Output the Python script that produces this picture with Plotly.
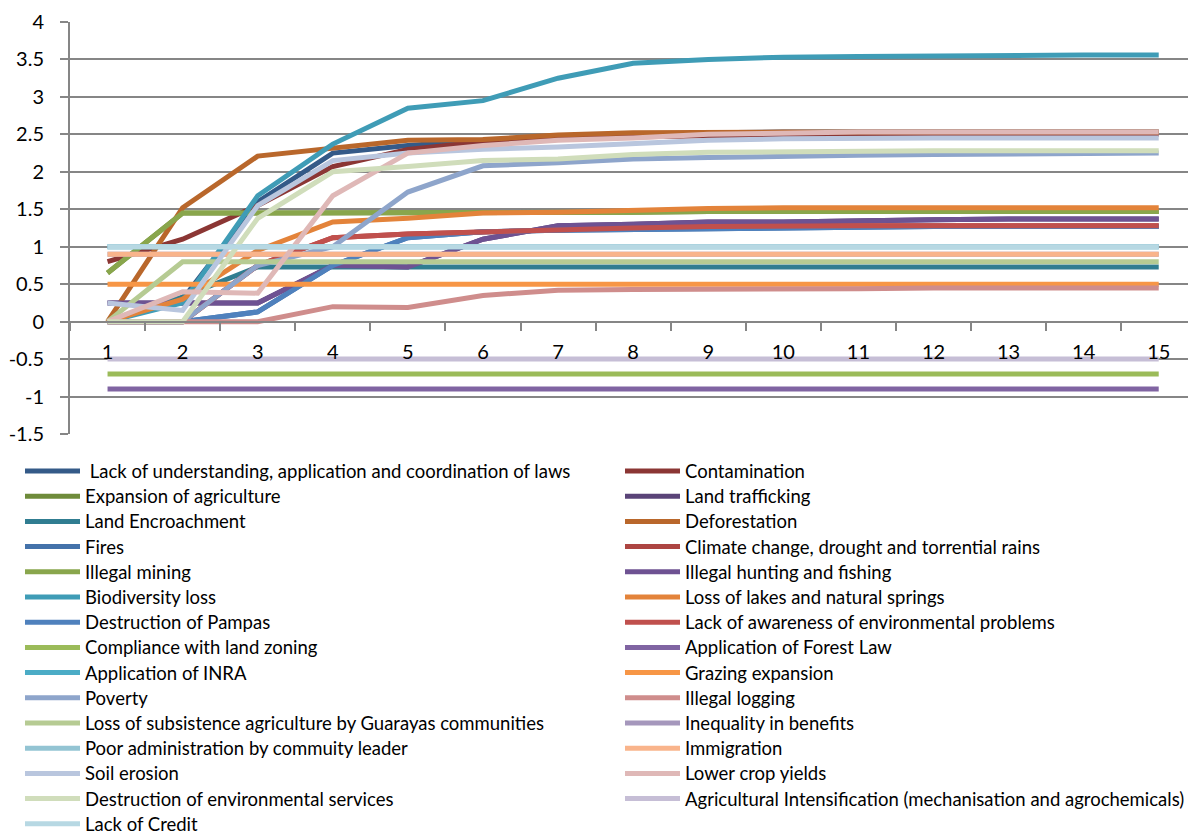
import plotly.graph_objects as go

steps = [str(i) for i in range(1, 16)]

names = [
    " Lack of understanding, application and coordination of laws",
    "Contamination",
    "Expansion of agriculture",
    "Land trafficking",
    "Land Encroachment",
    "Deforestation",
    "Fires",
    "Climate change, drought and torrential rains",
    "Illegal mining",
    "Illegal hunting and fishing",
    "Biodiversity loss",
    "Loss of lakes and natural springs",
    "Destruction of Pampas",
    "Lack of awareness of environmental problems",
    "Compliance with land zoning",
    "Application of Forest Law",
    "Application of INRA",
    "Grazing expansion",
    "Poverty",
    "Illegal logging",
    "Loss of subsistence agriculture by Guarayas communities",
    "Inequality in benefits",
    "Poor administration by commuity leader",
    "Immigration",
    "Soil erosion",
    "Lower crop yields",
    "Destruction of environmental services",
    "Agricultural Intensification (mechanisation and agrochemicals)",
    "Lack of Credit",
]

lack_of_understanding = [0, 0.3, 1.6, 2.25, 2.35, 2.42, 2.47, 2.5, 2.52, 2.53, 2.53, 2.53, 2.53, 2.53, 2.53]
contamination = [0.8, 1.1, 1.55, 2.07, 2.3, 2.4, 2.45, 2.47, 2.48, 2.49, 2.5, 2.5, 2.5, 2.5, 2.5]
expansion_agriculture = [0.65, 1.45, 1.45, 1.45, 1.45, 1.46, 1.46, 1.46, 1.47, 1.47, 1.47, 1.47, 1.47, 1.47, 1.47]
land_trafficking = [0.25, 0.25, 0.25, 0.75, 0.73, 1.1, 1.28, 1.3, 1.33, 1.33, 1.35, 1.36, 1.37, 1.37, 1.37]
land_encroachment = [0, 0.33, 0.73, 0.73, 0.73, 0.73, 0.73, 0.73, 0.73, 0.73, 0.73, 0.73, 0.73, 0.73, 0.73]
deforestation = [0, 1.52, 2.21, 2.32, 2.42, 2.43, 2.49, 2.52, 2.53, 2.53, 2.53, 2.53, 2.53, 2.53, 2.53]
fires = [0, 0, 0.13, 0.75, 1.12, 1.2, 1.22, 1.23, 1.25, 1.26, 1.27, 1.27, 1.27, 1.27, 1.27]
climate_change = [0, 0, 0.75, 1.12, 1.17, 1.2, 1.22, 1.25, 1.27, 1.28, 1.28, 1.28, 1.28, 1.28, 1.28]
illegal_mining = [0.65, 1.45, 1.45, 1.45, 1.45, 1.46, 1.46, 1.46, 1.47, 1.47, 1.47, 1.47, 1.47, 1.47, 1.47]
illegal_hunting = [0.25, 0.25, 0.25, 0.75, 0.73, 1.1, 1.28, 1.3, 1.33, 1.33, 1.35, 1.36, 1.37, 1.37, 1.37]
biodiversity_loss = [0, 0.25, 1.68, 2.37, 2.85, 2.95, 3.25, 3.45, 3.5, 3.53, 3.54, 3.55, 3.56, 3.56, 3.56]
loss_of_lakes = [0, 0.3, 0.95, 1.33, 1.38, 1.45, 1.46, 1.49, 1.51, 1.52, 1.52, 1.52, 1.52, 1.52, 1.52]
destruction_pampas = [0, 0, 0.13, 0.75, 1.12, 1.2, 1.22, 1.23, 1.25, 1.26, 1.27, 1.27, 1.27, 1.27, 1.27]
lack_of_awareness = [0, 0, 0.75, 1.12, 1.17, 1.2, 1.22, 1.25, 1.27, 1.28, 1.28, 1.28, 1.28, 1.28, 1.28]
compliance_zoning = [-0.7] * 15
forest_law = [-0.9] * 15
application_inra = [1.0] * 15
grazing_expansion = [0.5] * 15
poverty = [0, 0, 0.75, 1.0, 1.73, 2.08, 2.12, 2.17, 2.19, 2.21, 2.22, 2.23, 2.24, 2.24, 2.25]
illegal_logging = [0, 0, 0, 0.2, 0.19, 0.35, 0.42, 0.43, 0.43, 0.44, 0.44, 0.45, 0.45, 0.45, 0.45]
loss_subsistence = [0, 0.8, 0.8, 0.8, 0.8, 0.8, 0.8, 0.8, 0.8, 0.8, 0.8, 0.8, 0.8, 0.8, 0.8]
inequality_benefits = [0.9] * 15
poor_administration = [1.0] * 15
immigration = [0.9] * 15
soil_erosion = [0.25, 0.15, 1.55, 2.15, 2.25, 2.3, 2.33, 2.38, 2.42, 2.44, 2.45, 2.45, 2.45, 2.45, 2.45]
lower_crop_yields = [0, 0.4, 0.38, 1.68, 2.25, 2.35, 2.42, 2.45, 2.5, 2.52, 2.53, 2.53, 2.53, 2.53, 2.53]
destruction_services = [0, 0, 1.38, 2.0, 2.07, 2.15, 2.17, 2.23, 2.26, 2.27, 2.28, 2.28, 2.28, 2.28, 2.28]
agri_intensification = [-0.5] * 15
lack_of_credit = [1.0] * 15

series = [
    lack_of_understanding, contamination, expansion_agriculture, land_trafficking,
    land_encroachment, deforestation, fires, climate_change, illegal_mining,
    illegal_hunting, biodiversity_loss, loss_of_lakes, destruction_pampas,
    lack_of_awareness, compliance_zoning, forest_law, application_inra,
    grazing_expansion, poverty, illegal_logging, loss_subsistence,
    inequality_benefits, poor_administration, immigration, soil_erosion,
    lower_crop_yields, destruction_services, agri_intensification, lack_of_credit,
]

colors = [
    "#345A88", "#8B3634", "#6E8B3A", "#5A4478", "#307D91", "#B9672B",
    "#4472AA", "#AD4542", "#89A64C", "#6E5292", "#3F9CB6", "#E3833A",
    "#4F81BD", "#C0504D", "#9BBB59", "#8064A2", "#4BACC6", "#F79646",
    "#8EA5CB", "#CF8D8C", "#B6CB93", "#A597BC", "#93C4D3", "#F9B48B",
    "#B9C6DE", "#DFB8B7", "#D0DDBB", "#C6BED6", "#B7D8E3",
]

y_ticks = [-1.5, -1, -0.5, 0, 0.5, 1, 1.5, 2, 2.5, 3, 3.5, 4]
y_tick_text = ["-1.5", "-1", "-0.5", "0", "0.5", "1", "1.5", "2", "2.5", "3", "3.5", "4"]

W, H = 1188, 835
L, R, T, B = 70, 0, 22, 401
plot_w = W - L - R
plot_h = H - T - B


def px_x(px):
    return (px - L) / plot_w


def px_y(py):
    return (H - B - py) / plot_h


fig = go.Figure()
for name, vals, col in zip(names, series, colors):
    fig.add_trace(go.Scatter(
        x=steps, y=vals, name=name, mode="lines",
        line=dict(color=col, width=5), showlegend=False,
    ))

grid = "#868686"
font = "Lato, 'Open Sans', sans-serif"

# Two-column key below the plot: left column takes odd entries, right even.
shapes = []
annotations = []
for i, (name, col) in enumerate(zip(names, colors)):
    row, col_idx = divmod(i, 2)
    y_px = 471 + 25.2 * row
    x0 = 25 + 600 * col_idx
    shapes.append(dict(
        type="line", xref="paper", yref="paper",
        x0=px_x(x0), x1=px_x(x0 + 55), y0=px_y(y_px), y1=px_y(y_px),
        line=dict(color=col, width=5),
    ))
    annotations.append(dict(
        text=name, xref="paper", yref="paper",
        x=px_x(x0 + 58), y=px_y(y_px), xanchor="left", yanchor="middle",
        showarrow=False, font=dict(size=18.5, family=font, color="black"),
    ))

fig.update_layout(
    width=W, height=H,
    margin=dict(l=L, r=R, t=T, b=B, autoexpand=False),
    plot_bgcolor="white", paper_bgcolor="white",
    font=dict(family=font, color="black"),
    showlegend=False,
    shapes=shapes,
    annotations=annotations,
    xaxis=dict(
        type="category", range=[-0.5, 14.39],
        anchor="free", position=1.5 / 5.5,
        showgrid=False, showline=True, linecolor=grid, linewidth=2,
        ticks="outside", ticklen=8, tickcolor=grid, tickwidth=2,
        tickson="boundaries", ticklabelstandoff=12,
        tickfont=dict(size=20, family=font, color="black"),
        zeroline=False,
    ),
    yaxis=dict(
        range=[-1.5, 4], tickvals=y_ticks, ticktext=y_tick_text,
        showgrid=True, gridcolor=grid, gridwidth=2,
        showline=True, linecolor=grid, linewidth=2,
        ticks="outside", ticklen=8, tickcolor=grid, tickwidth=2,
        ticklabelstandoff=12,
        tickfont=dict(size=20, family=font, color="black"),
        zeroline=False,
    ),
)

fig.write_html("out.html")
